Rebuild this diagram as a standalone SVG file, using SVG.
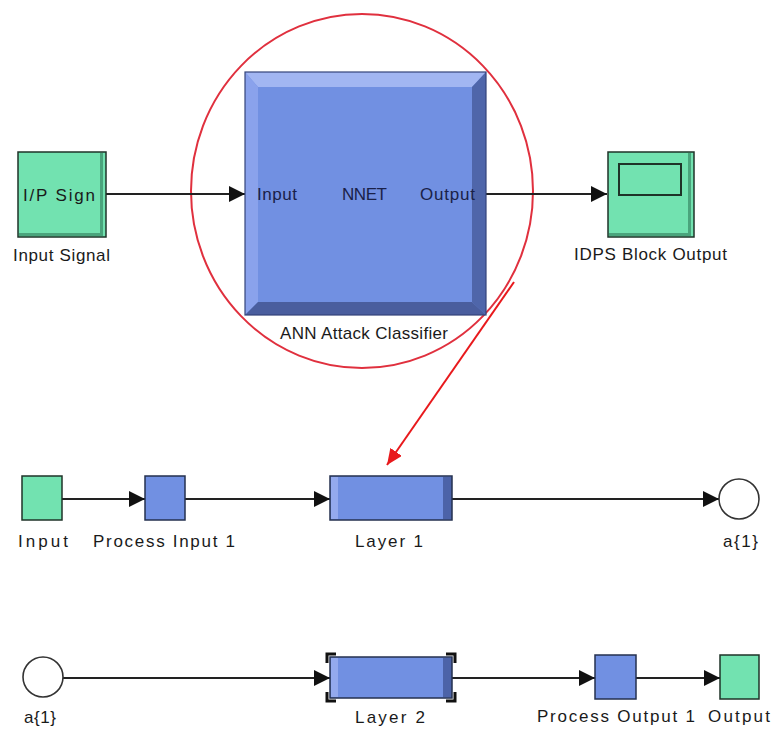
<svg xmlns="http://www.w3.org/2000/svg" width="774" height="729" viewBox="0 0 774 729">
<defs>
<style>
.lbl{font-family:"Liberation Sans",Arial,sans-serif;font-size:17px;fill:#1a1a1a;text-anchor:middle}
.port{fill:#1a2148}
.green{fill:#72e2b0;stroke:#1f3328;stroke-width:1.5}
.blue{fill:#7190e2;stroke:#25304f;stroke-width:1.5}
.wire{fill:none;stroke:#222;stroke-width:1.8}
.sig{fill:#fff;stroke:#333;stroke-width:1.6}
.hdl{fill:none;stroke:#111;stroke-width:3}
</style>
<marker id="ah" viewBox="0 0 16 16" refX="16" refY="8" markerWidth="16" markerHeight="16" markerUnits="userSpaceOnUse" orient="auto">
<path d="M0,0 L16,8 L0,16 z" fill="#111"/>
</marker>
<marker id="rah" viewBox="0 0 16 14" refX="16" refY="7" markerWidth="16" markerHeight="14" markerUnits="userSpaceOnUse" orient="auto">
<path d="M0,0 L16,7 L0,14 z" fill="#e8191c"/>
</marker>
</defs>
<rect width="774" height="729" fill="#fff"/>

<ellipse cx="362" cy="191" rx="171" ry="177" fill="none" stroke="#e0303e" stroke-width="2"/>

<g id="connectors">
<path class="wire" d="M106,194 H245" marker-end="url(#ah)"/>
<path class="wire" d="M486,194 H607" marker-end="url(#ah)"/>
<path class="wire" d="M62,499 H145" marker-end="url(#ah)"/>
<path class="wire" d="M185,499 H330" marker-end="url(#ah)"/>
<path class="wire" d="M452,499 H719" marker-end="url(#ah)"/>
<path class="wire" d="M63,678 H330" marker-end="url(#ah)"/>
<path class="wire" d="M452,678 H595" marker-end="url(#ah)"/>
<path class="wire" d="M636,678 H720" marker-end="url(#ah)"/>
<path d="M514,282 L387,465" fill="none" stroke="#e8191c" stroke-width="2" marker-end="url(#rah)"/>
</g>

<g id="input-signal">
<rect class="green" x="18" y="152" width="88" height="85"/>
<path d="M103,153 V236 H19 V233 H100 V153 Z" fill="#4aa47c"/>
<text class="lbl" x="59" y="201" textLength="72" lengthAdjust="spacing">I/P Sign</text>
<text class="lbl" x="61.5" y="261" textLength="97" lengthAdjust="spacing">Input Signal</text>
</g>

<g id="ann-classifier">
<rect x="245" y="72" width="241" height="243" fill="#7190e2"/>
<polygon points="245,72 486,72 472,87 258,87" fill="#a2b6f2"/>
<polygon points="245,72 258,87 258,302 245,315" fill="#8aa2ec"/>
<polygon points="486,72 486,315 472,302 472,87" fill="#4f66aa"/>
<polygon points="245,315 486,315 472,302 258,302" fill="#4a5e9e"/>
<rect x="245" y="72" width="241" height="243" fill="none" stroke="#34447a" stroke-width="1.2"/>
<text class="lbl port" x="277" y="200" textLength="40" lengthAdjust="spacing">Input</text>
<text class="lbl port" x="364.5" y="200" textLength="45" lengthAdjust="spacing">NNET</text>
<text class="lbl port" x="447.5" y="200" textLength="55" lengthAdjust="spacing">Output</text>
<text class="lbl" x="364" y="339" textLength="168" lengthAdjust="spacing">ANN Attack Classifier</text>
</g>

<g id="idps-output">
<rect class="green" x="608" y="152" width="86" height="85"/>
<path d="M691,153 V236 H609 V233 H688 V153 Z" fill="#4aa47c"/>
<rect x="619" y="164" width="62" height="31" fill="none" stroke="#1f3328" stroke-width="2"/>
<text class="lbl" x="650.5" y="260" textLength="153" lengthAdjust="spacing">IDPS Block Output</text>
</g>

<g id="input">
<rect class="green" x="22" y="476" width="40" height="44"/>
<text class="lbl" x="43" y="547" textLength="50" lengthAdjust="spacing">Input</text>
</g>

<g id="process-input-1">
<rect class="blue" x="145" y="476" width="40" height="44"/>
<text class="lbl" x="164" y="547" textLength="142" lengthAdjust="spacing">Process Input 1</text>
</g>

<g id="layer-1">
<rect x="330" y="476" width="122" height="44" fill="#7190e2"/>
<rect x="331" y="477" width="7" height="42" fill="#94aaee"/>
<rect x="443" y="477" width="9" height="42" fill="#4c63a8"/>
<rect x="330" y="476" width="122" height="44" fill="none" stroke="#25304f" stroke-width="1.5"/>
<text class="lbl" x="389" y="547" textLength="68" lengthAdjust="spacing">Layer 1</text>
</g>

<g id="a1-out">
<circle class="sig" cx="739" cy="499" r="20"/>
<text class="lbl" x="740.5" y="547" textLength="35" lengthAdjust="spacing">a{1}</text>
</g>

<g id="a1-in">
<circle class="sig" cx="43" cy="677" r="20"/>
<text class="lbl" x="40" y="723" textLength="32" lengthAdjust="spacing">a{1}</text>
</g>

<g id="layer-2">
<rect x="330" y="657" width="122" height="41" fill="#7190e2"/>
<rect x="331" y="658" width="7" height="39" fill="#94aaee"/>
<rect x="443" y="658" width="9" height="39" fill="#4c63a8"/>
<rect x="330" y="657" width="122" height="41" fill="none" stroke="#25304f" stroke-width="1.5"/>
<path class="hdl" d="M327,663 V654 H336"/>
<path class="hdl" d="M446,654 H455 V663"/>
<path class="hdl" d="M327,692 V701 H336"/>
<path class="hdl" d="M446,701 H455 V692"/>
<text class="lbl" x="390" y="723" textLength="70" lengthAdjust="spacing">Layer 2</text>
</g>

<g id="process-output-1">
<rect class="blue" x="595" y="655" width="41" height="44"/>
<text class="lbl" x="616" y="722" textLength="158" lengthAdjust="spacing">Process Output 1</text>
</g>

<g id="output">
<rect class="green" x="720" y="655" width="39" height="44"/>
<text class="lbl" x="739" y="722" textLength="62" lengthAdjust="spacing">Output</text>
</g>
</svg>
